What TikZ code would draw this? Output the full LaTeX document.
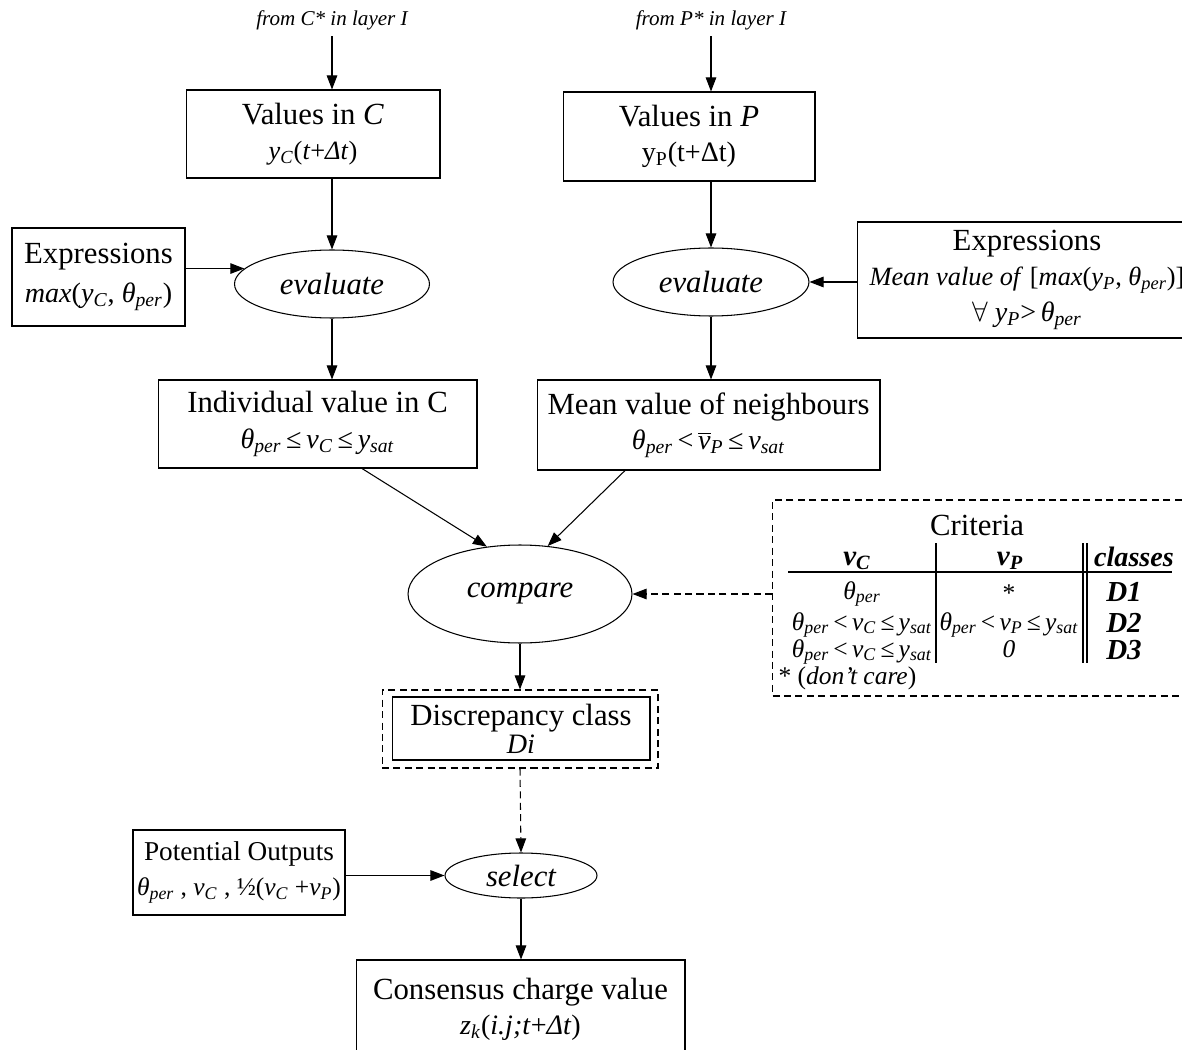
\RequirePackage{fix-cm}
\documentclass[tikz,border=0pt]{standalone}
\usepackage[no-math]{fontspec}
\setmainfont{Liberation Serif}[ItalicFont={Liberation Serif Italic}, BoldFont={Liberation Serif Bold}, BoldItalicFont={Liberation Serif Bold Italic}]
\usetikzlibrary{arrows.meta,positioning,shapes.geometric}

\newcommand{\ttlsize}{\fontsize{17.5}{20}\selectfont}
\newcommand{\subsize}{\fontsize{16}{19}\selectfont}
\newcommand{\tabsize}{\fontsize{14.5}{16}\selectfont}
\newcommand{\srcsize}{\fontsize{12}{14}\selectfont}
% italic symbol with italic subscript
\newcommand{\iv}[2]{\textit{#1}\textsubscript{\textit{#2}}}
\newcommand{\thp}{\iv{θ}{per}}

\begin{document}
\begin{tikzpicture}[x=0.02cm, y=-0.02cm, >={Triangle[length=8pt,width=6pt]}, line width=0.6pt,
  blk/.style={draw, rectangle, align=center, font=\ttlsize, inner sep=0pt},
  op/.style={draw, ellipse, inner sep=0pt, font=\ttlsize\itshape},
  src/.style={font=\srcsize\itshape},
  dsh/.style={dash pattern=on 4pt off 2.5pt},
  cell/.style={font=\tabsize, inner sep=0pt, anchor=base},
  hd/.style={font=\fontsize{16.5}{19}\selectfont\bfseries\itshape, inner sep=0pt, anchor=base}]
\useasboundingbox (0,0) rectangle (1182,1050);

% inputs from layer I
\node[src] (fromC) at (332,20) {from C* in layer I};
\node[src] (fromP) at (711,20) {from P* in layer I};

\node[blk, minimum width=5.08cm, minimum height=1.76cm] (valC) at (313,134) {Values in \textit{C}\\ {\fontsize{15}{19}\selectfont\iv{y}{C}(\textit{t}+\textit{Δt})}};
\node[blk, minimum width=5.04cm, minimum height=1.78cm] (valP) at (689,136.5) {Values in \textit{P}\\ {\subsize y\textsubscript{P}(t+Δt)}};

% evaluation
\node[op, minimum width=3.9cm, minimum height=1.36cm] (evalC) at (332,284) {evaluate};
\node[op, minimum width=3.92cm, minimum height=1.36cm] (evalP) at (711,282) {evaluate};
\node[blk, minimum width=3.46cm, minimum height=1.96cm] (exprC) at (98.5,277) {Expressions\\[2pt] {\subsize\textit{max}(\iv{y}{C}, \thp)}};
\node[blk, minimum width=6.8cm, minimum height=2.32cm] (exprP) at (1027,280) {Expressions\\ {\fontsize{15}{18}\selectfont\textit{Mean value of} [\textit{max}(\iv{y}{P}, \thp)]}\\ {\subsize $\forall$ \iv{y}{P}>\,\thp}};

\node[blk, minimum width=6.38cm, minimum height=1.76cm] (indiv) at (317.5,424) {Individual value in C\\ {\subsize\thp\,≤\,\iv{v}{C}\,≤\,\iv{y}{sat}}};
\node[blk, minimum width=6.86cm, minimum height=1.8cm] (meanP) at (708.5,425) {Mean value of neighbours\\ {\subsize\thp\,<\,$\overline{\mbox{\textit{v}}}$\textsubscript{\textit{P}}\,≤\,\iv{v}{sat}}};

% comparison and criteria
\node[op, minimum width=4.48cm, minimum height=1.96cm] (cmp) at (520,594) {compare};
\node[draw, dsh, minimum width=8.3cm, minimum height=3.92cm] (crit) at (980,598) {};
\node[font=\ttlsize, anchor=base, inner sep=0pt] (critT) at (977,535) {Criteria};
\node[hd] (hC) at (857,565) {v\textsubscript{C}};
\node[hd] (hP) at (1010,565) {v\textsubscript{P}};
\node[hd, font=\fontsize{16}{19}\selectfont\bfseries\itshape] (hK) at (1134,566) {classes};
\node[cell] (r1a) at (862,599) {\thp};
\node[cell] (r1b) at (1009,601) {*};
\node[hd] (r1c) at (1124,601) {D1};
\node[cell] (r2a) at (862,630) {\thp\,<\,\iv{v}{C}\,≤\,\iv{y}{sat}};
\node[cell] (r2b) at (1009,630) {\thp\,<\,\iv{v}{P}\,≤\,\iv{y}{sat}};
\node[hd] (r2c) at (1124,632) {D2};
\node[cell] (r3a) at (862,657) {\thp\,<\,\iv{v}{C}\,≤\,\iv{y}{sat}};
\node[cell] (r3b) at (1009,657) {\textit{0}};
\node[hd] (r3c) at (1124,659) {D3};
\node[cell, anchor=base west] (dc) at (778,684) {* (\textit{don't care})};
\draw[line width=1.4pt] (788,572) -- (1172,572);
\draw (936,543) -- (936,663);
\draw (1083,543) -- (1083,663);
\draw (1087,543) -- (1087,663);

% class and output
\node[blk, minimum width=5.16cm, minimum height=1.26cm, font=\fontsize{17.5}{16}\selectfont] (disc) at (521,728.5) {Discrepancy class\\ {\subsize\itshape Di}};
\node[draw, dsh, minimum width=5.52cm, minimum height=1.56cm] (discO) at (520,729) {};
\node[op, minimum width=3.04cm, minimum height=0.9cm] (sel) at (521,875.5) {select};
\node[blk, minimum width=4.24cm, minimum height=1.7cm, font=\fontsize{15.5}{20}\selectfont] (pot) at (239,872.5) {Potential Outputs\\ {\fontsize{14.5}{17}\selectfont\thp{} , \iv{v}{C} , ½(\iv{v}{C} +\iv{v}{P})}};
\node[blk, minimum width=6.58cm, minimum height=1.96cm] (cons) at (520.5,1009) {Consensus charge value\\ {\subsize\iv{z}{k}(\textit{i.j;t}+\textit{Δt})}};

\draw[->] (fromC) -- (fromC |- valC.north);
\draw[->] (fromP) -- (fromP |- valP.north);
\draw[->] (valC.south -| evalC) -- (evalC);
\draw[->] (valP.south -| evalP) -- (evalP);
\draw[->] (exprC.east |- evalC.170) -- (evalC.170);
\draw[->] (exprP.west |- evalP.east) -- (evalP.east);
\draw[->] (evalC) -- (evalC |- indiv.north);
\draw[->] (evalP) -- (evalP |- meanP.north);
\draw[->] ([xshift=0.89cm]indiv.south) -- (cmp.125);
\draw[->] ([xshift=-1.67cm]meanP.south) -- (cmp.60);
\draw[->, dsh] (crit.west |- cmp.east) -- (cmp.east);
\draw[->] (cmp.south) -- (discO.north);
\draw[->, dsh] (discO.south) -- (sel.north);
\draw[->] (pot.east |- sel.west) -- (sel.west);
\draw[->] (sel.south) -- (sel.south |- cons.north);
\end{tikzpicture}
\end{document}
